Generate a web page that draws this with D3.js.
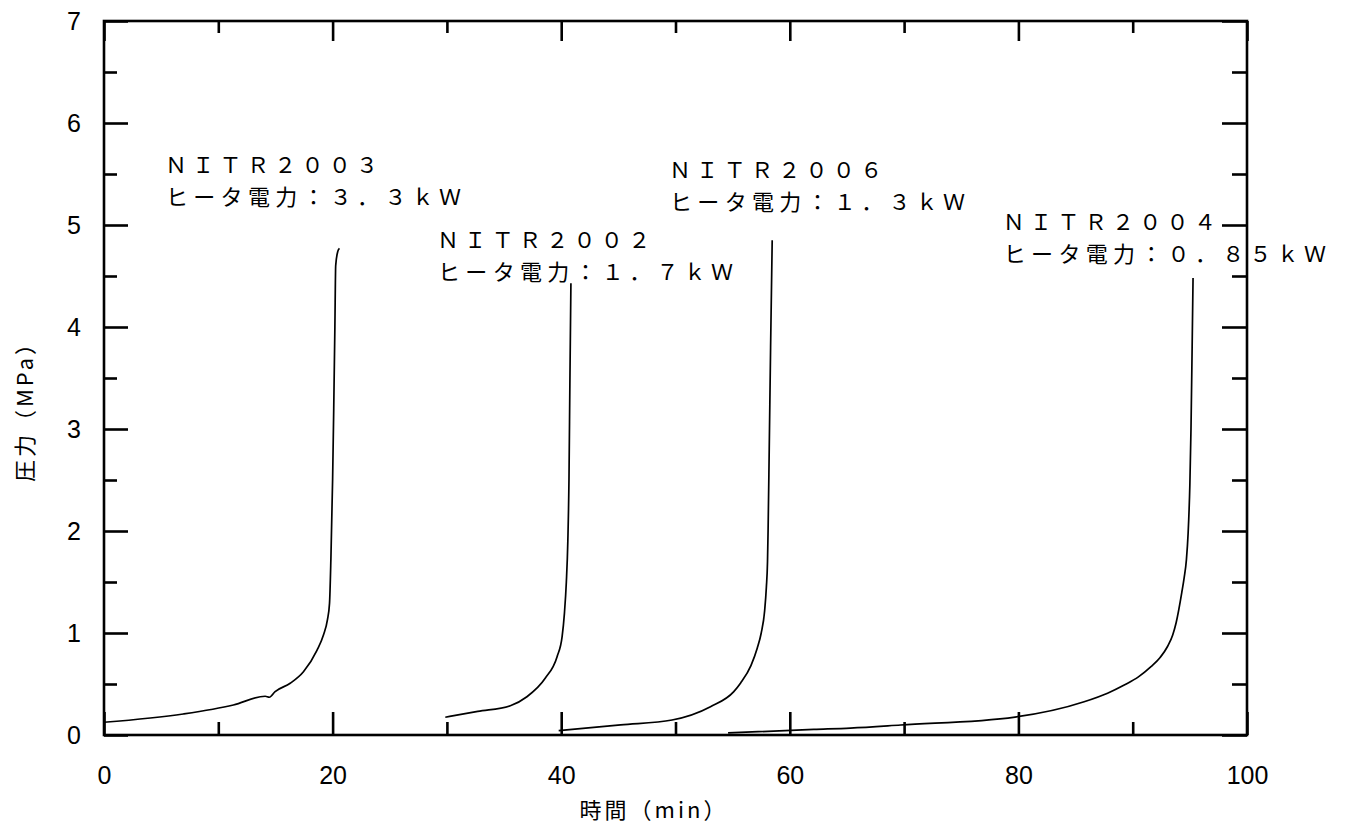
<!DOCTYPE html>
<html>
<head>
<meta charset="utf-8">
<script src="https://cdn.jsdelivr.net/npm/d3@7"></script>
<style>
  body { margin: 0; background: #fff; }
  svg { display: block; }
</style>
</head>
<body>
<svg id="chart" width="1357" height="830"></svg>
<script>
// Axis ticks
const xTicks = [0, 20, 40, 60, 80, 100];
const xMinorTicks = [10, 30, 50, 70, 90];
const yTicks = [0, 1, 2, 3, 4, 5, 6, 7];
const yMinorTicks = [0.5, 1.5, 2.5, 3.5, 4.5, 5.5, 6.5];

// Test runs and their heater power
const runNames = ["ＮＩＴＲ２００３", "ＮＩＴＲ２００２", "ＮＩＴＲ２００６", "ＮＩＴＲ２００４"];
const heaterPowers = ["ヒータ電力：３．３ｋＷ", "ヒータ電力：１．７ｋＷ", "ヒータ電力：１．３ｋＷ", "ヒータ電力：０．８５ｋＷ"];

// Pressure history per run: time (min) and pressure (MPa)
const time2003 = [0, 6.94, 11.32, 14.1, 14.47, 14.97, 16.29, 17.45, 18.63, 19.2, 19.55, 19.73, 19.85, 20.0, 20.1, 20.2, 20.27, 20.45, 20.6];
const pres2003 = [0.125, 0.206, 0.294, 0.38, 0.37, 0.425, 0.507, 0.62, 0.83, 0.98, 1.13, 1.29, 1.72, 2.5, 3.2, 4.0, 4.6, 4.74, 4.77];

const time2002 = [29.86, 32.7, 35.55, 37.0, 38.6, 39.64, 40.08, 40.28, 40.45, 40.58, 40.68, 40.76, 40.85];
const pres2002 = [0.174, 0.231, 0.287, 0.375, 0.556, 0.768, 0.964, 1.19, 1.5, 1.9, 2.5, 3.45, 4.43];

const time2006 = [39.78, 45.2, 49.7, 53.06, 55.1, 55.7, 56.6, 57.15, 57.5, 57.8, 57.95, 58.05, 58.1, 58.2, 58.32, 58.46];
const pres2006 = [0.042, 0.10, 0.147, 0.277, 0.425, 0.51, 0.68, 0.85, 1.0, 1.22, 1.45, 1.7, 2.0, 2.8, 3.8, 4.85];

const time2004 = [54.6, 62.1, 65.3, 69.7, 79.7, 85.75, 87.8, 89.26, 90.5, 91.6, 92.4, 93.06, 93.5, 93.8, 94.3, 94.5, 94.7, 94.85, 95.0, 95.1, 95.2, 95.28];
const pres2004 = [0.02, 0.055, 0.068, 0.098, 0.176, 0.326, 0.41, 0.49, 0.57, 0.67, 0.76, 0.87, 0.98, 1.1, 1.4, 1.54, 1.72, 1.98, 2.45, 3.0, 3.8, 4.48];

// Where each run's caption sits, in axis units (left edge, first baseline)
const captionAt = [[5.6, 5.51], [29.4, 4.77], [49.7, 5.46], [78.9, 4.95]];

const series = [
  { t: time2003, p: pres2003 },
  { t: time2002, p: pres2002 },
  { t: time2006, p: pres2006 },
  { t: time2004, p: pres2004 }
];

const svg = d3.select("#chart");
const plotLeft = 104, plotRight = 1247, plotTop = 21, plotBottom = 735;

const x = d3.scaleLinear().domain([0, 100]).range([plotLeft, plotRight]);
const y = d3.scaleLinear().domain([0, 7]).range([plotBottom, plotTop]);

const cjk = "'Noto Sans CJK JP', 'Noto Sans', sans-serif";
const latin = "'Liberation Sans', Arial, sans-serif";

// Captions (drawn beneath the frame so the right border crosses them)
const captions = svg.append("g")
  .attr("font-family", cjk)
  .attr("font-size", 22)
  .attr("letter-spacing", 5.3)
  .attr("fill", "#000");
runNames.forEach((name, i) => {
  const [cx, cy] = captionAt[i];
  captions.append("text")
    .attr("x", x(cx) - 3).attr("y", y(cy))
    .text(name);
  captions.append("text")
    .attr("x", x(cx) - 2).attr("y", y(cy) + 32)
    .text(heaterPowers[i]);
});

// Pressure curves
const line = d3.line()
  .x((d) => x(d[0]))
  .y((d) => y(d[1]))
  .curve(d3.curveMonotoneX);

svg.append("g")
  .selectAll("path")
  .data(series)
  .join("path")
  .attr("d", (s) => line(s.t.map((t, i) => [t, s.p[i]])))
  .attr("fill", "none")
  .attr("stroke", "#000")
  .attr("stroke-width", 1.7)
  .attr("stroke-linejoin", "round");

// Axes with inward ticks on all four sides
function styleAxis(g, width) {
  g.select(".domain").remove();
  g.selectAll(".tick line").attr("stroke", "#000").attr("stroke-width", width);
  g.selectAll(".tick text")
    .attr("fill", "#000")
    .attr("font-family", latin)
    .attr("font-size", 25);
}

svg.append("g").attr("transform", `translate(0,${plotBottom})`)
  .call(d3.axisBottom(x).tickValues(xTicks).tickSize(-23).tickPadding(31).tickFormat(d3.format("d")))
  .call((g) => styleAxis(g, 2.6));
svg.append("g").attr("transform", `translate(0,${plotBottom})`)
  .call(d3.axisBottom(x).tickValues(xMinorTicks).tickSize(-13).tickFormat(""))
  .call((g) => styleAxis(g, 2.6));
svg.append("g").attr("transform", `translate(0,${plotTop})`)
  .call(d3.axisTop(x).tickValues(xTicks).tickSize(-20).tickFormat(""))
  .call((g) => styleAxis(g, 2.6));
svg.append("g").attr("transform", `translate(0,${plotTop})`)
  .call(d3.axisTop(x).tickValues(xMinorTicks).tickSize(-12).tickFormat(""))
  .call((g) => styleAxis(g, 2.6));

svg.append("g").attr("transform", `translate(${plotLeft},0)`)
  .call(d3.axisLeft(y).tickValues(yTicks).tickSize(-24).tickPadding(23).tickFormat(d3.format("d")))
  .call((g) => styleAxis(g, 2.6));
svg.append("g").attr("transform", `translate(${plotLeft},0)`)
  .call(d3.axisLeft(y).tickValues(yMinorTicks).tickSize(-13).tickFormat(""))
  .call((g) => styleAxis(g, 2.6));
svg.append("g").attr("transform", `translate(${plotRight},0)`)
  .call(d3.axisRight(y).tickValues(yTicks).tickSize(-25).tickFormat(""))
  .call((g) => styleAxis(g, 2.6));
svg.append("g").attr("transform", `translate(${plotRight},0)`)
  .call(d3.axisRight(y).tickValues(yMinorTicks).tickSize(-15).tickFormat(""))
  .call((g) => styleAxis(g, 2.6));

// Plot frame
svg.append("rect")
  .attr("x", plotLeft).attr("y", plotTop)
  .attr("width", plotRight - plotLeft).attr("height", plotBottom - plotTop)
  .attr("fill", "none")
  .attr("stroke", "#000")
  .attr("stroke-width", 2.6);

// Axis titles
svg.append("text")
  .attr("x", 654).attr("y", 818)
  .attr("text-anchor", "middle")
  .attr("font-family", cjk)
  .attr("font-size", 22)
  .attr("letter-spacing", 3)
  .text("時間（min）");

svg.append("text")
  .attr("transform", "translate(33,406) rotate(-90)")
  .attr("text-anchor", "middle")
  .attr("font-family", cjk)
  .attr("font-size", 22)
  .attr("letter-spacing", 3)
  .text("圧力（MPa）");
</script>
</body>
</html>
